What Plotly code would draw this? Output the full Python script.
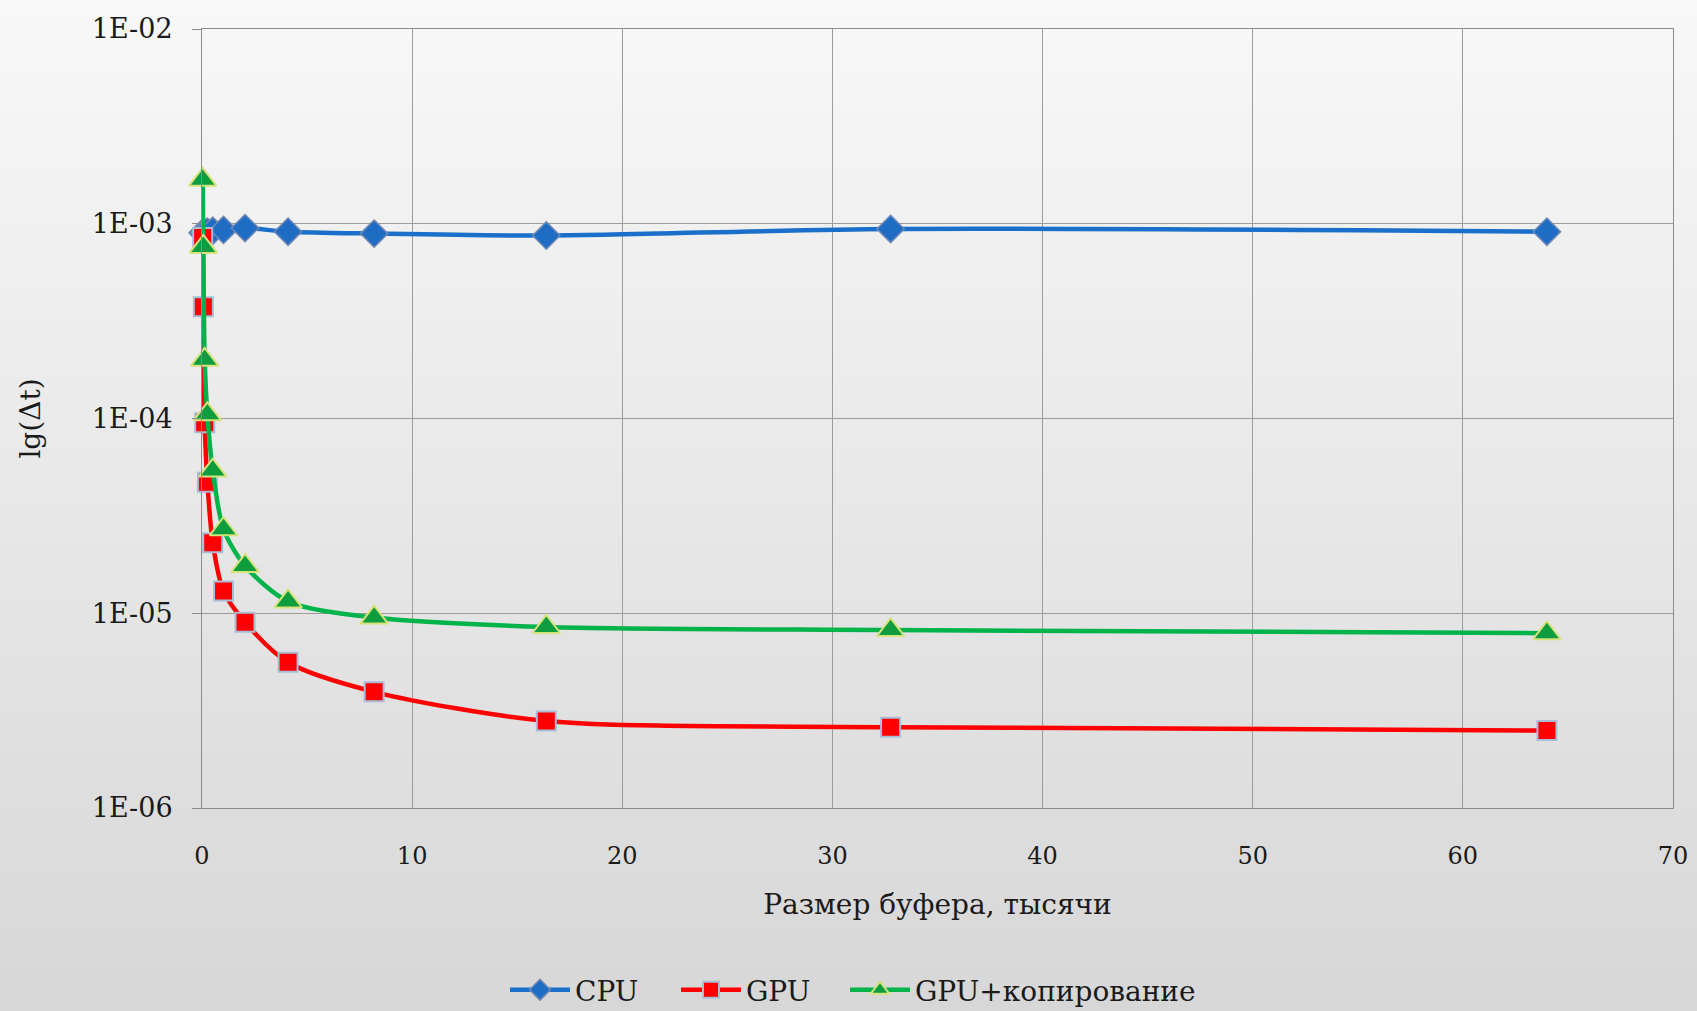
import plotly.graph_objects as go

# ---- data ----
buffer_k = [0.032, 0.064, 0.128, 0.256, 0.512, 1.024, 2.048, 4.096, 8.192, 16.384, 32.768, 64]
cpu = [9.0e-4, 8.9e-4, 9.0e-4, 9.1e-4, 9.2e-4, 9.3e-4, 9.5e-4, 9.1e-4, 8.9e-4, 8.7e-4, 9.4e-4, 9.1e-4]
gpu = [8.5e-4, 3.75e-4, 9.5e-5, 4.7e-5, 2.3e-5, 1.3e-5, 9.0e-6, 5.6e-6, 3.95e-6, 2.8e-6, 2.6e-6, 2.5e-6]
gpu_copy = [1.68e-3, 7.6e-4, 2.0e-4, 1.05e-4, 5.4e-5, 2.7e-5, 1.75e-5, 1.15e-5, 9.5e-6, 8.5e-6, 8.2e-6, 7.9e-6]

series_names = ["CPU", "GPU", "GPU+копирование"]
y_tickvals = [1e-6, 1e-5, 1e-4, 1e-3, 1e-2]
y_ticktext = ["1E-06", "1E-05", "1E-04", "1E-03", "1E-02"]
x_tickvals = [0, 10, 20, 30, 40, 50, 60, 70]

W, H = 1697, 1011
ML, MR, MT, MB = 202, 24, 29, 203
FONT = "DejaVu Serif"
TXT = "#1a1a1a"

fig = go.Figure()

fig.add_trace(go.Scatter(
    x=buffer_k, y=cpu, name=series_names[0], mode="lines+markers", cliponaxis=False,
    line=dict(color="#1a6fca", width=4.5, shape="spline", smoothing=0.8),
    marker=dict(symbol="diamond", size=21, color="#1f6cc4",
                line=dict(color="#6f88b4", width=1.5)),
    legend="legend",
))
fig.add_trace(go.Scatter(
    x=buffer_k, y=gpu, name=series_names[1], mode="lines+markers", cliponaxis=False,
    line=dict(color="#ff0000", width=4.5, shape="spline", smoothing=0.8),
    marker=dict(symbol="square", size=19, color="#ff0000",
                line=dict(color="#a9bdd6", width=2)),
    legend="legend",
))
fig.add_trace(go.Scatter(
    x=buffer_k, y=gpu_copy, name=series_names[2], mode="lines+markers", cliponaxis=False,
    line=dict(color="#00b34a", width=4.5, shape="spline", smoothing=0.8),
    marker=dict(symbol="triangle-up", size=24, color="#0d9c3e",
                line=dict(color="#d6e27a", width=2)),
    legend="legend2",
))

# background vertical gradient (white -> light grey) made of thin strips
pw = W - ML - MR
ph = H - MT - MB
n = 120
top_c = (0xf8, 0xf8, 0xf8)
bot_c = (0xd7, 0xd7, 0xd7)
shapes = []
for i in range(n):
    f0 = i / n
    f1 = (i + 1) / n
    py0 = f0 * H
    py1 = f1 * H + 1
    t = (f0 + f1) / 2
    c = tuple(int(round(top_c[k] + (bot_c[k] - top_c[k]) * t)) for k in range(3))
    shapes.append(dict(
        type="rect", xref="paper", yref="paper", layer="below",
        x0=-ML / pw - 0.02, x1=1 + MR / pw + 0.02,
        y0=(H - MB - py1) / ph, y1=(H - MB - py0) / ph,
        fillcolor="rgb(%d,%d,%d)" % c, line=dict(width=0),
    ))

leg_common = dict(
    orientation="h", xref="container", yref="container",
    y=1 - 990 / H, yanchor="middle", xanchor="left",
    font=dict(family=FONT, size=28, color=TXT),
    bgcolor="rgba(0,0,0,0)", itemwidth=60,
)

fig.update_layout(
    width=W, height=H, autosize=False,
    margin=dict(l=ML, r=MR, t=MT, b=MB, autoexpand=False),
    paper_bgcolor="#e4e4e4",
    plot_bgcolor="rgba(0,0,0,0)",
    shapes=shapes,
    font=dict(family=FONT, color=TXT),
    showlegend=True,
    legend=dict(leg_common, x=(515 - 10) / W, entrywidth=96),
    legend2=dict(leg_common, x=(855 - 10) / W),
)

fig.update_xaxes(
    range=[0, 70], tickvals=x_tickvals, showgrid=True, gridcolor="#9c9c9c", gridwidth=1,
    showline=True, linecolor="#8c8c8c", linewidth=1, mirror=True, automargin=False,
    ticks="", ticklabelstandoff=26,
    tickfont=dict(family=FONT, size=24, color=TXT),
    title=dict(text="Размер буфера, тысячи", font=dict(family=FONT, size=28, color=TXT),
               standoff=25),
    zeroline=False,
)
fig.update_yaxes(
    type="log", range=[-6, -2], tickvals=y_tickvals, ticktext=y_ticktext,
    showgrid=True, gridcolor="#9c9c9c", gridwidth=1,
    showline=True, linecolor="#8c8c8c", linewidth=1, mirror=True, automargin=False,
    ticks="outside", ticklen=9, tickcolor="#8c8c8c", ticklabelstandoff=14,
    tickfont=dict(family=FONT, size=27, color=TXT),
    title=dict(text="lg(Δt)", font=dict(family=FONT, size=28, color=TXT), standoff=42),
    zeroline=False,
)

fig.write_html(
    "out.html",
    config={"displayModeBar": False},
    post_script="document.documentElement.style.overflow='hidden';"
                "document.body.style.margin='0';document.body.style.overflow='hidden';",
)
